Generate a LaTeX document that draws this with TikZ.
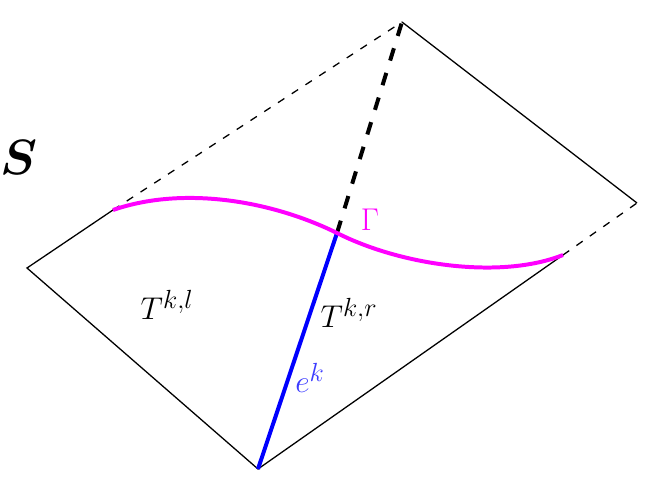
\documentclass[tikz,border=0pt]{standalone}
\usepackage{amsmath}
\usepackage{amssymb}
\usepackage{xcolor}
\usepackage{tikz}
\usetikzlibrary{positioning, calc}

\definecolor{gammacol}{RGB}{255,0,255}
\definecolor{ekcol}{RGB}{60,60,255}

\begin{document}
\begin{tikzpicture}[x=0.03cm, y=-0.03cm,
    edgeline/.style={draw, line width=1.1pt},
    hiddenline/.style={draw, line width=1.1pt, dash pattern=on 6.5pt off 7.5pt},
    cutline/.style={draw, line width=3.4pt, dash pattern=on 11pt off 11pt},
    interface/.style={draw=gammacol, line width=3.4pt},
    edgek/.style={draw=blue, line width=3.4pt},
    lbl/.style={font=\Huge, scale=1.08}]
    \useasboundingbox (0,0) rectangle (660,477);

    \coordinate (left) at (27,268);
    \coordinate (bottom) at (258,469);
    \coordinate (right) at (637,203);
    \coordinate (top) at (402,22);
    \coordinate (mid) at (337,233);
    \coordinate (gl) at (113,210);
    \coordinate (gr) at (563,255);

    % outline of the cell
    \path[edgeline] (gl) -- (left) -- (bottom) -- (gr);
    \path[edgeline] (top) -- (right);
    \path[hiddenline] (gl) -- (top);
    \path[hiddenline] (gr) -- (right);

    % edge e^k and its hidden part
    \path[cutline] (mid) -- (top);
    \path[edgek] (bottom) -- (mid);

    % interface Gamma
    \path[interface] (gl) .. controls (182,186) and (270,200) .. (mid)
        .. controls (400,265) and (500,280) .. (gr);

    \node[font=\Huge, scale=1.7] (S) at (19,157) {$\boldsymbol{S}$};
    \node[lbl, text=gammacol] (gamma) at (370,220) {$\Gamma$};
    \node[lbl] (Tl) at (167,305) {$T^{k,l}$};
    \node[lbl] (Tr) at (349,313) {$T^{k,r}$};
    \node[lbl, text=ekcol] (ek) at (310,378) {$e^k$};
\end{tikzpicture}
\end{document}
